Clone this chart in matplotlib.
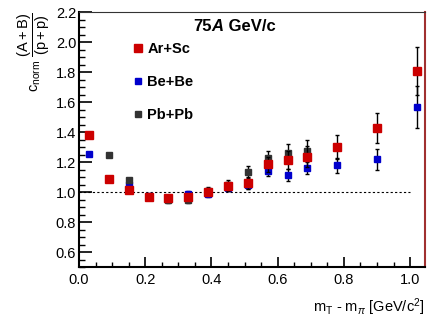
import matplotlib
matplotlib.use("Agg")
import matplotlib.pyplot as plt
from matplotlib.lines import Line2D
from matplotlib.ticker import MultipleLocator

# --- dane ---
ar_x = [0.03, 0.09, 0.15, 0.21, 0.27, 0.33, 0.39, 0.45, 0.51, 0.57, 0.63, 0.69, 0.78, 0.90, 1.02]
ar_y = [1.38, 1.085, 1.015, 0.97, 0.96, 0.97, 1.00, 1.04, 1.06, 1.185, 1.215, 1.235, 1.30, 1.43, 1.81]
ar_err = [0.005, 0.01, 0.01, 0.01, 0.015, 0.02, 0.02, 0.03, 0.04, 0.05, 0.06, 0.07, 0.08, 0.10, 0.16]

be_x = [0.03, 0.15, 0.21, 0.27, 0.33, 0.39, 0.45, 0.51, 0.57, 0.63, 0.69, 0.78, 0.90, 1.02]
be_y = [1.255, 1.05, 0.975, 0.96, 0.99, 0.99, 1.03, 1.05, 1.14, 1.113, 1.157, 1.18, 1.218, 1.57]
be_err = [0.005, 0.01, 0.01, 0.015, 0.02, 0.02, 0.02, 0.03, 0.03, 0.04, 0.04, 0.05, 0.07, 0.14]

pb_x = [0.09, 0.15, 0.21, 0.27, 0.33, 0.39, 0.45, 0.51, 0.57, 0.63, 0.69]
pb_y = [1.245, 1.08, 0.97, 0.95, 0.95, 1.01, 1.05, 1.135, 1.225, 1.26, 1.275]
pb_err = [0.005, 0.01, 0.01, 0.02, 0.02, 0.025, 0.03, 0.04, 0.05, 0.06, 0.07]

RED = "#cc0000"
BLUE = "#0000cc"
GREY = "#333333"

plt.rcParams["font.family"] = ["Liberation Sans", "DejaVu Sans"]
plt.rcParams["mathtext.fontset"] = "custom"
plt.rcParams["mathtext.rm"] = "Liberation Sans"
plt.rcParams["mathtext.it"] = "Liberation Sans:italic"
plt.rcParams["mathtext.bf"] = "Liberation Sans:bold"

fig = plt.figure(figsize=(4.32, 3.21), dpi=100)
ax = fig.add_axes([79 / 432, 54 / 321, 346 / 432, 255 / 321])

# linia odniesienia y = 1
ax.plot([0.0, 1.0], [1.0, 1.0], ls=(0, (2, 2)), color="black", lw=0.8, zorder=1)

# serie z niepewnościami
ax.errorbar(be_x, be_y, yerr=be_err, fmt="s", ms=4.8, color=BLUE, mec=BLUE,
            ecolor="black", elinewidth=1.0, capsize=1.2, zorder=2)
ax.errorbar(pb_x, pb_y, yerr=pb_err, fmt="s", ms=4.8, color=GREY, mec=GREY,
            ecolor="black", elinewidth=1.0, capsize=1.2, zorder=3)
ax.errorbar(ar_x, ar_y, yerr=ar_err, fmt="s", ms=5.6, color=RED, mec=RED,
            ecolor="black", elinewidth=1.0, capsize=1.2, zorder=4)

ax.set_xlim(0.0, 1.045)
ax.set_ylim(0.5, 2.2)

# osie w stylu ROOT
ax.xaxis.set_major_locator(MultipleLocator(0.2))
ax.xaxis.set_minor_locator(MultipleLocator(0.05))
ax.yaxis.set_major_locator(MultipleLocator(0.2))
ax.yaxis.set_minor_locator(MultipleLocator(0.05))
ax.xaxis.set_major_formatter(plt.FuncFormatter(lambda v, p: f"{v:.1f}"))
ax.yaxis.set_major_formatter(plt.FuncFormatter(lambda v, p: f"{v:.1f}" if v >= 0.55 else ""))
ax.tick_params(axis="both", which="both", direction="in", top=False, right=False,
               labelsize=10.5, colors="black")
ax.tick_params(axis="y", which="major", length=9, width=1.2, pad=2)
ax.tick_params(axis="y", which="minor", length=4.5, width=1.0)
ax.tick_params(axis="x", which="major", length=7, width=1.2, pad=4)
ax.tick_params(axis="x", which="minor", length=3.5, width=1.0)

ax.spines["left"].set_linewidth(1.5)
ax.spines["bottom"].set_linewidth(1.5)
ax.spines["top"].set_linewidth(0.8)
ax.spines["top"].set_color("#333333")
ax.spines["right"].set_linewidth(1.5)
ax.spines["right"].set_color("#a03030")

ax.set_xlabel(r"m$_{\rm T}$ - m$_{\pi}$ [GeV/c$^{2}$]", loc="right", fontsize=10.5, labelpad=7)
ax.set_ylabel(r"c$_{\rm norm}$ $\dfrac{(\rm A+B)}{(\rm p+p)}$", loc="top", fontsize=10.5, labelpad=3)

# tytuł: "75" + kursywa "A" + " GeV/c"
t1 = ax.text(0.33, 0.972, "75", transform=ax.transAxes, fontsize=12,
             fontweight="bold", va="top", ha="left")
t2 = ax.annotate("A", xy=(1, 0), xycoords=t1, fontsize=12, fontweight="bold",
                 fontstyle="italic", va="bottom", ha="left")
ax.annotate(" GeV/c", xy=(1, 0), xycoords=t2, fontsize=12, fontweight="bold",
            va="bottom", ha="left")

handles = [
    Line2D([], [], ls="none", marker="s", ms=5.6, color=RED),
    Line2D([], [], ls="none", marker="s", ms=4.8, color=BLUE),
    Line2D([], [], ls="none", marker="s", ms=4.8, color=GREY),
]
ax.legend(handles, ["Ar+Sc", "Be+Be", "Pb+Pb"], loc="upper left",
          bbox_to_anchor=(0.12, 0.935), frameon=False, handlelength=0.6,
          handletextpad=0.35, labelspacing=1.32, prop={"weight": "bold", "size": 10.5})

fig.savefig("out.png", dpi=100)
